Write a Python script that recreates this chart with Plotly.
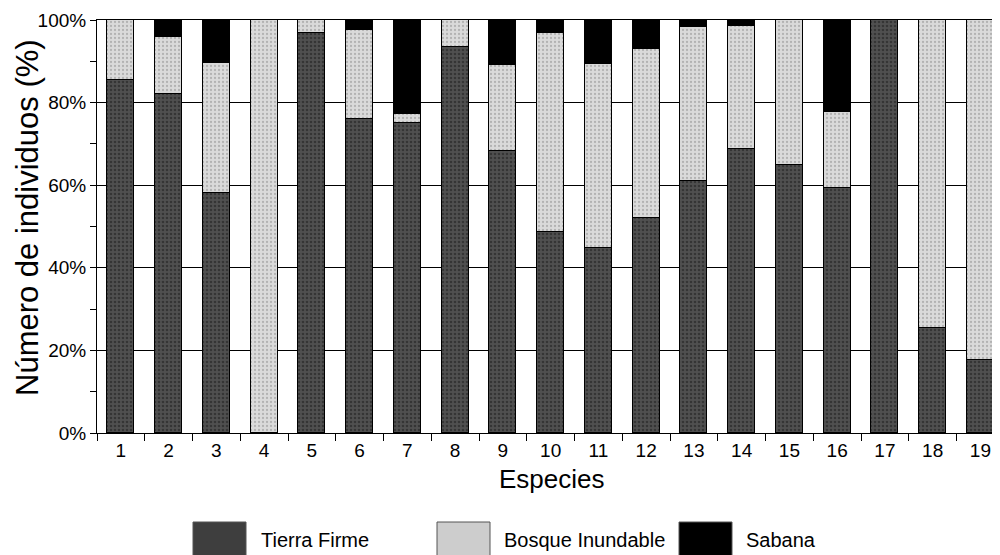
import plotly.graph_objects as go

especies = list(range(1, 20))
tierra_firme = [85.4, 82.1, 58.0, 0, 96.9, 76.1, 75.0, 93.5, 68.4, 48.6,
                44.9, 52.1, 61.0, 68.8, 64.8, 59.4, 100, 25.5, 17.7]
bosque_inundable = [14.6, 13.8, 31.7, 100, 3.1, 21.4, 2.3, 6.5, 20.8, 48.3,
                    44.4, 40.9, 37.2, 29.8, 35.2, 18.3, 0, 74.5, 82.3]
sabana = [0, 4.1, 10.3, 0, 0, 2.5, 22.7, 0, 10.8, 3.1,
          10.7, 7.0, 1.8, 1.4, 0, 22.3, 0, 0, 0]
y_ticks = [0, 20, 40, 60, 80, 100]
series_names = ["Tierra Firme", "Bosque Inundable", "Sabana"]

FONT = "Liberation Sans, Arial, sans-serif"
C_TF = "#3e3e3e"
C_BI = "#cdcdcd"
C_SA = "#000000"

fig = go.Figure()
for name, vals, col, pat in [
    (series_names[0], tierra_firme, C_TF, dict(shape=".", fgcolor="#1a1a1a", bgcolor="#505050", size=4, solidity=0.35)),
    (series_names[1], bosque_inundable, C_BI, dict(shape=".", fgcolor="#8a8a8a", bgcolor="#dadada", size=4, solidity=0.25)),
    (series_names[2], sabana, C_SA, None),
]:
    marker = dict(color=col, line=dict(color="black", width=1))
    if pat:
        marker["pattern"] = pat
    fig.add_trace(go.Bar(x=especies, y=vals, name=name, width=0.565,
                         marker=marker, showlegend=False))

# page has an 8px body margin; reference pixel positions are mapped accordingly
OFF = 8
W, H = 1000 - OFF, 555 - OFF
REF_L, REF_T, REF_BOT = 97, 20, 433
L = REF_L - OFF
T = REF_T - OFF
B = H - (REF_BOT - OFF)
PW = W - L
PH = REF_BOT - REF_T

def px(xp):
    return (xp - REF_L) / PW

def py(yp):
    return (REF_BOT - yp) / PH

fig.update_layout(
    width=W, height=H,
    margin=dict(l=L, r=0, t=T, b=B),
    barmode="stack",
    bargap=0,
    plot_bgcolor="white", paper_bgcolor="white",
    font=dict(family=FONT, color="black"),
    xaxis=dict(
        range=[0.5, 0.5 + PW / 47.75],
        tickmode="array", tickvals=especies, ticktext=[str(e) for e in especies],
        ticks="", showgrid=False, zeroline=False,
        showline=True, linecolor="black", linewidth=1, mirror=True,
        tickfont=dict(size=19, family=FONT, color="black"),
        minor=dict(tick0=0.5, dtick=1, ticks="outside", ticklen=7,
                   tickcolor="black", tickwidth=1, showgrid=False),
    ),
    yaxis=dict(
        range=[0, 100],
        tickmode="array", tickvals=y_ticks, ticktext=[f"{v}%" for v in y_ticks],
        ticks="outside", ticklen=6, tickcolor="black",
        showgrid=True, gridcolor="black", gridwidth=1,
        zeroline=False, showline=True, linecolor="black", linewidth=1,
        tickfont=dict(size=19, family=FONT, color="black"),
        minor=dict(tick0=0, dtick=10, ticks="outside", ticklen=6,
                   tickcolor="black", showgrid=False),
    ),
)

annotations = [
    dict(text="Número de individuos (%)", x=px(27), y=py(218), xref="paper", yref="paper",
         textangle=-90, showarrow=False, font=dict(size=31, family=FONT, color="black"),
         xanchor="center", yanchor="middle"),
    dict(text="Especies", x=px(552), y=py(479), xref="paper", yref="paper",
         showarrow=False, font=dict(size=26, family=FONT, color="black"),
         xanchor="center", yanchor="middle"),
]
shapes = []
legend_items = [(193, C_TF, 259), (437, C_BI, 502), (679, C_SA, 744)]
for (sx, col, tx), name in zip(legend_items, series_names):
    shapes.append(dict(type="rect", xref="paper", yref="paper",
                       x0=px(sx), x1=px(sx + 53), y0=py(562), y1=py(522),
                       fillcolor=col, line=dict(color="#555", width=1)))
    annotations.append(dict(text=name, x=px(tx), y=py(540), xref="paper", yref="paper",
                            showarrow=False, xanchor="left", yanchor="middle",
                            font=dict(size=20, family=FONT, color="black")))
fig.update_layout(annotations=annotations, shapes=shapes)

fig.write_html("out.html")
